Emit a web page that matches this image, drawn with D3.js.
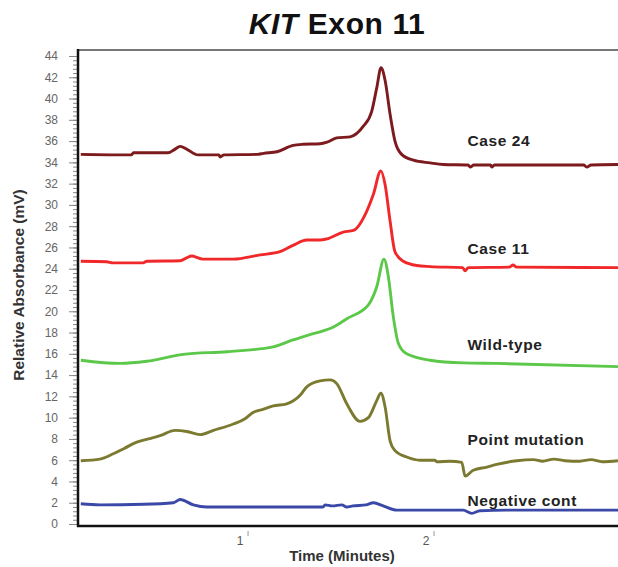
<!DOCTYPE html>
<html>
<head>
<meta charset="utf-8">
<script src="https://cdn.jsdelivr.net/npm/d3@7"></script>
<style>
  body { margin: 0; background: #fff; }
  svg { display: block; font-family: "Liberation Sans", Arial, sans-serif; }
</style>
</head>
<body>
<svg width="618" height="567"></svg>
<script>
const svg = d3.select("svg");

// chromatogram traces, [time (min), absorbance (mV)]
const case24 = [
  [0.117, 34.75], [0.39, 34.7], [0.40, 34.9], [0.586, 34.9], [0.62, 35.2], [0.651, 35.5], [0.69, 35.2],
  [0.747, 34.7], [0.86, 34.7], [0.866, 34.5], [0.887, 34.7], [1.065, 34.75], [1.10, 34.85], [1.172, 35.0],
  [1.258, 35.6], [1.312, 35.7], [1.403, 35.75], [1.441, 35.9], [1.493, 36.3], [1.565, 36.4], [1.636, 37.4],
  [1.681, 38.8], [1.708, 41.0], [1.731, 42.9], [1.753, 41.7], [1.780, 38.5], [1.806, 36.0], [1.842, 34.75],
  [1.905, 34.2], [1.995, 33.95], [2.065, 33.8], [2.20, 33.75], [2.21, 33.55], [2.23, 33.75], [2.32, 33.75],
  [2.326, 33.55], [2.34, 33.75], [2.82, 33.75], [2.837, 33.55], [2.86, 33.75], [3.005, 33.8]
];
const case11 = [
  [0.117, 24.7], [0.256, 24.65], [0.29, 24.55], [0.452, 24.55], [0.472, 24.7], [0.651, 24.75], [0.713, 25.2],
  [0.774, 24.9], [0.935, 24.9], [1.081, 25.3], [1.188, 25.6], [1.258, 26.2], [1.332, 26.7], [1.403, 26.7],
  [1.439, 26.8], [1.528, 27.45], [1.582, 27.6], [1.654, 29.4], [1.69, 31.0], [1.73, 33.2], [1.753, 31.9],
  [1.78, 28.45], [1.806, 25.6], [1.851, 24.7], [1.923, 24.3], [1.995, 24.2], [2.17, 24.1], [2.183, 23.8],
  [2.20, 24.1], [2.42, 24.15], [2.441, 24.35], [2.46, 24.15], [3.005, 24.1]
];
const wildType = [
  [0.117, 15.4], [0.328, 15.1], [0.472, 15.3], [0.667, 15.95], [0.902, 16.2], [1.151, 16.65], [1.258, 17.3],
  [1.366, 17.9], [1.403, 18.07], [1.473, 18.5], [1.547, 19.3], [1.663, 20.6], [1.708, 22.3], [1.747, 24.9],
  [1.77, 23.3], [1.797, 19.5], [1.824, 17.0], [1.869, 16.0], [1.995, 15.4], [2.172, 15.15], [2.353, 15.1],
  [3.005, 14.8]
];
const pointMutation = [
  [0.117, 5.95], [0.22, 6.1], [0.292, 6.6], [0.35, 7.1], [0.418, 7.7], [0.48, 8.0], [0.543, 8.3], [0.624, 8.8],
  [0.687, 8.7], [0.758, 8.4], [0.83, 8.8], [0.937, 9.4], [1.0, 9.9], [1.045, 10.5], [1.10, 10.8], [1.152, 11.1],
  [1.224, 11.3], [1.296, 12.1], [1.332, 12.9], [1.403, 13.45], [1.457, 13.55], [1.493, 13.2], [1.547, 11.3],
  [1.618, 9.65], [1.663, 10.0], [1.708, 11.6], [1.73, 12.3], [1.753, 11.0], [1.78, 7.8], [1.806, 6.9],
  [1.869, 6.3], [1.941, 6.0], [2.02, 6.0], [2.03, 5.85], [2.102, 5.9], [2.165, 5.8], [2.183, 4.5],
  [2.227, 5.05], [2.30, 5.35], [2.353, 5.6], [2.461, 5.95], [2.55, 6.05], [2.60, 5.9], [2.66, 6.1],
  [2.72, 5.95], [2.80, 5.9], [2.86, 6.05], [2.92, 5.85], [3.005, 5.95]
];
const negativeCont = [
  [0.117, 1.9], [0.22, 1.8], [0.453, 1.85], [0.615, 2.0], [0.651, 2.3], [0.722, 1.8], [0.794, 1.6],
  [1.419, 1.6], [1.43, 1.8], [1.47, 1.7], [1.52, 1.8], [1.547, 1.6], [1.58, 1.7], [1.65, 1.8], [1.69, 2.0],
  [1.743, 1.7], [1.816, 1.3], [2.172, 1.3], [2.219, 1.0], [2.263, 1.25], [2.407, 1.3], [3.005, 1.3]
];

const seriesNames = ["Case 24", "Case 11", "Wild-type", "Point mutation", "Negative cont"];
const seriesData = [case24, case11, wildType, pointMutation, negativeCont];
const seriesColors = ["#7d1a1d", "#f0282a", "#5cc84a", "#7b7a30", "#3a48a8"];
// where each label sits, in data units
const labelTime = 2.196;
const labelValues = [35.5, 25.4, 16.35, 7.45, 1.7];

const yTicks = d3.range(0, 45, 2);
const xTicks = [1, 2];

const x = d3.scaleLinear().domain([0.102, 3.005]).range([78, 618]);
const y = d3.scaleLinear().domain([0, 44]).range([524, 56]);

// title
const title = svg.append("text")
  .attr("x", 337).attr("y", 34)
  .attr("text-anchor", "middle")
  .style("font-size", "30px").style("font-weight", "bold")
  .style("letter-spacing", "0.6px")
  .attr("fill", "#111");
title.append("tspan").style("font-style", "italic").text("KIT");
title.append("tspan").text(" Exon 11");

// frame top
svg.append("line")
  .attr("x1", 78).attr("x2", 618).attr("y1", 50).attr("y2", 50)
  .attr("stroke", "#777").attr("stroke-width", 2);

// minor y ticks
svg.append("g")
  .attr("transform", "translate(78,0)")
  .call(d3.axisLeft(y).tickValues(d3.range(0, 44.01, 0.4)).tickSize(5).tickFormat(""))
  .call(g => g.select(".domain").remove())
  .call(g => g.selectAll("line").attr("stroke", "#888"));

// major y ticks
svg.append("g")
  .attr("transform", "translate(78,0)")
  .call(d3.axisLeft(y).tickValues(yTicks).tickSize(9).tickPadding(11))
  .call(g => g.select(".domain").remove())
  .call(g => g.selectAll("line").attr("stroke", "#888"))
  .call(g => g.selectAll("text")
    .attr("fill", "#666")
    .style("font-size", "12px")
    .style("font-family", "'Liberation Sans', Arial, sans-serif"));

// x ticks
const xt = svg.append("g");
xt.selectAll("line").data(xTicks).enter().append("line")
  .attr("x1", d => x(d) + 3).attr("x2", d => x(d) + 3)
  .attr("y1", 531).attr("y2", 536)
  .attr("stroke", "#999").attr("stroke-width", 1);
xt.selectAll("text").data(xTicks).enter().append("text")
  .attr("x", d => x(d) - 5).attr("y", 545)
  .attr("text-anchor", "middle")
  .style("font-size", "12px")
  .attr("fill", "#555")
  .text(d => d);

// traces
const line = d3.line()
  .x(d => x(d[0]))
  .y(d => y(d[1]))
  .curve(d3.curveMonotoneX);

svg.append("g").selectAll("path")
  .data(seriesData)
  .enter()
  .append("path")
  .attr("d", line)
  .attr("fill", "none")
  .attr("stroke", (d, i) => seriesColors[i])
  .attr("stroke-width", 2.9)
  .attr("stroke-linejoin", "round");

// axis lines
svg.append("line")
  .attr("x1", 78).attr("x2", 78).attr("y1", 49).attr("y2", 527)
  .attr("stroke", "#111").attr("stroke-width", 2.5);
svg.append("line")
  .attr("x1", 77).attr("x2", 618).attr("y1", 526).attr("y2", 526)
  .attr("stroke", "#111").attr("stroke-width", 2.5);

// series labels
svg.append("g").selectAll("text")
  .data(seriesNames)
  .enter()
  .append("text")
  .attr("x", x(labelTime))
  .attr("y", (d, i) => y(labelValues[i]))
  .style("font-size", "15.5px").style("font-weight", "bold")
  .style("letter-spacing", "0.6px")
  .attr("fill", "#222")
  .text(d => d);

// axis titles
svg.append("text")
  .attr("x", 342).attr("y", 561)
  .attr("text-anchor", "middle")
  .style("font-size", "15px").style("font-weight", "bold")
  .attr("fill", "#333")
  .text("Time (Minutes)");

svg.append("text")
  .attr("transform", "translate(24,285) rotate(-90)")
  .attr("text-anchor", "middle")
  .style("font-size", "15.5px").style("font-weight", "bold")
  .attr("fill", "#333")
  .text("Relative Absorbance (mV)");
</script>
</body>
</html>
